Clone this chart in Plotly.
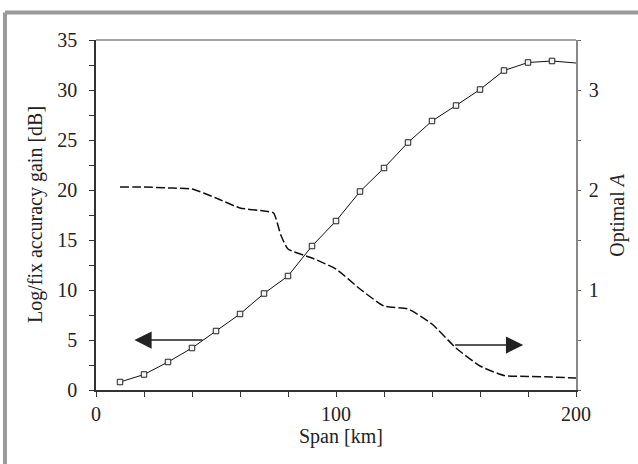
import plotly.graph_objects as go

# Data
span_gain = [10, 20, 30, 40, 50, 60, 70, 80, 90, 100, 110, 120, 130, 140, 150, 160, 170, 180, 190]
gain_db = [0.8, 1.55, 2.8, 4.2, 5.9, 7.6, 9.65, 11.4, 14.4, 16.9, 19.85, 22.2, 24.75, 26.9, 28.45, 30.05, 31.95, 32.75, 32.9]
span_end = [190, 200]
gain_end = [32.9, 32.7]

span_a = [10, 20, 30, 40, 50, 60, 70, 74, 77, 80, 90, 100, 110, 120, 130, 140, 150, 160, 170, 180, 190, 200]
optimal_a = [2.03, 2.03, 2.02, 2.01, 1.92, 1.82, 1.79, 1.77, 1.55, 1.41, 1.32, 1.21, 1.01, 0.84, 0.81, 0.66, 0.42, 0.24, 0.145, 0.135, 0.13, 0.12]

x_ticks = list(range(0, 201, 20))
x_labels = ["0" if v == 0 else ("100" if v == 100 else ("200" if v == 200 else "")) for v in x_ticks]
y_ticks = [i * 2.5 for i in range(15)]
y_labels = [str(int(v)) if v % 5 == 0 else "" for v in y_ticks]
y2_ticks = [i * 0.5 for i in range(8)]
y2_labels = [str(int(v)) if v in (1, 2, 3) else "" for v in y2_ticks]

x_title = "Span [km]"
y_title = "Log/fix accuracy gain [dB]"
y2_title = "Optimal <i>A</i>"

FONT = "Liberation Serif, Times New Roman, serif"
fig = go.Figure()

fig.add_trace(go.Scatter(
    x=span_a, y=optimal_a, yaxis="y2", mode="lines",
    line=dict(color="#111", width=1.5, dash="9px,3px", shape="spline", smoothing=0.5),
    showlegend=False))

fig.add_trace(go.Scatter(
    x=span_end, y=gain_end, mode="lines",
    line=dict(color="#111", width=1), showlegend=False))

fig.add_trace(go.Scatter(
    x=span_gain, y=gain_db, mode="lines+markers",
    line=dict(color="#111", width=1),
    marker=dict(symbol="square", size=5.5, color="#f4f4f4", line=dict(color="#222", width=1)),
    showlegend=False))

arrow_style = dict(showarrow=True, text="", arrowhead=2, arrowsize=2.3, arrowwidth=1.5,
                   arrowcolor="#222", standoff=0, startstandoff=0,
                   xref="x", yref="y", axref="x", ayref="y")

fig.add_annotation(x=16, y=5.0, ax=45, ay=5.0, **arrow_style)
fig.add_annotation(x=178, y=4.5, ax=149, ay=4.5, **arrow_style)

# axis titles as annotations (paper coordinates)
title_font = dict(family=FONT, size=20, color="#222")
fig.add_annotation(text=x_title, xref="paper", yref="paper", x=0.51, y=-0.133,
                   xanchor="center", yanchor="middle", showarrow=False, font=title_font)
fig.add_annotation(text=y_title, xref="paper", yref="paper", x=-0.127, y=0.5, textangle=-90,
                   xanchor="center", yanchor="middle", showarrow=False, font=title_font)
fig.add_annotation(text=y2_title, xref="paper", yref="paper", x=1.085, y=0.5, textangle=-90,
                   xanchor="center", yanchor="middle", showarrow=False, font=title_font)

border = dict(color="#9a9a9a", width=4)
fig.add_shape(type="line", xref="paper", yref="paper", x0=-0.1896, x1=1.14, y0=1.0786, y1=1.0786, line=border)
fig.add_shape(type="line", xref="paper", yref="paper", x0=-0.1896, x1=-0.1896, y0=1.0786, y1=-0.23, line=border)
fig.add_shape(type="line", xref="paper", yref="paper", x0=0, x1=1, y0=1, y1=1,
              line=dict(color="#888", width=1.5))

fig.update_layout(
    width=638, height=464,
    margin=dict(l=96, r=62, t=40, b=74),
    paper_bgcolor="white", plot_bgcolor="white",
    font=dict(family=FONT, size=20, color="#222"),
    xaxis=dict(range=[0, 200], tickvals=x_ticks, ticktext=x_labels,
               ticks="outside", ticklen=5, tickcolor="#333", tickwidth=1,
               showline=True, linecolor="#333", linewidth=1.5,
               showgrid=False, zeroline=False),
    yaxis=dict(range=[0, 35], tickvals=y_ticks, ticktext=y_labels,
               ticks="outside", ticklen=5, tickcolor="#333", tickwidth=1,
               ticklabelstandoff=8,
               showline=True, linecolor="#333", linewidth=1.5,
               showgrid=False, zeroline=False),
    yaxis2=dict(range=[0, 3.5], overlaying="y", side="right",
                tickvals=y2_ticks, ticktext=y2_labels,
                ticks="outside", ticklen=3, tickcolor="#666", tickwidth=1,
                ticklabelstandoff=4,
                showline=True, linecolor="#888", linewidth=1.5,
                showgrid=False, zeroline=False),
)

fig.write_html("out.html", config={"displayModeBar": False},
               post_script="document.body.style.margin='0px';document.body.style.overflow='hidden';")
